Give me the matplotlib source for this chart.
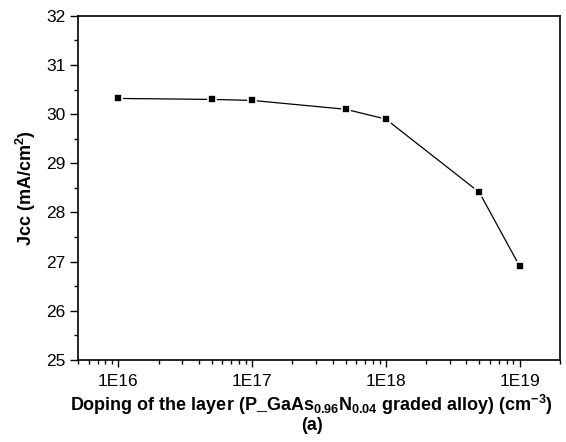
import matplotlib
matplotlib.use("Agg")
import matplotlib.pyplot as plt
from matplotlib.ticker import FixedLocator, LogLocator, NullFormatter, MultipleLocator

plt.rcParams["font.family"] = ["Liberation Sans", "DejaVu Sans"]
plt.rcParams["mathtext.fontset"] = "custom"
plt.rcParams["mathtext.rm"] = "Liberation Sans:bold"
plt.rcParams["mathtext.it"] = "Liberation Sans:bold"
plt.rcParams["mathtext.bf"] = "Liberation Sans:bold"

# Doping levels (cm^-3) and short-circuit current density
doping = [1e16, 5e16, 1e17, 5e17, 1e18, 5e18, 1e19]
jcc = [30.32, 30.30, 30.28, 30.10, 29.90, 28.41, 26.91]
tick_pos = [1e16, 1e17, 1e18, 1e19]
tick_labels = ["1E16", "1E17", "1E18", "1E19"]

fig = plt.figure(figsize=(5.66, 4.42), dpi=100)
ax = fig.add_axes([0.138, 0.186, 0.851, 0.778])

ax.plot(doping, jcc, "-", color="black", lw=0.9, marker="s", ms=5.5,
        mfc="black", mec="white", mew=1.2)

ax.set_xscale("log")
ax.set_xlim(5e15, 2e19)
ax.set_ylim(25, 32)
ax.xaxis.set_major_locator(FixedLocator(tick_pos))
ax.set_xticklabels(tick_labels)
ax.xaxis.set_minor_locator(LogLocator(base=10, subs=range(2, 10)))
ax.xaxis.set_minor_formatter(NullFormatter())
ax.yaxis.set_major_locator(MultipleLocator(1))
ax.yaxis.set_minor_locator(MultipleLocator(0.5))

ax.tick_params(which="major", direction="out", length=5, width=1, labelsize=12.5)
ax.tick_params(axis="x", which="major", pad=5)
ax.tick_params(axis="y", which="major", length=6, pad=3)
ax.tick_params(which="minor", direction="out", length=3, width=1)
for s in ax.spines.values():
    s.set_linewidth(1.2)

ax.set_ylabel("Jcc (mA/cm$^{2}$)", fontsize=13, fontweight="bold", labelpad=6)
ax.set_xlabel("Doping of the layer (P_GaAs$_{0.96}$N$_{0.04}$ graded alloy) (cm$^{-3}$)\n(a)",
              fontsize=13, fontweight="bold", labelpad=3, linespacing=1.0)
ax.xaxis.label.set_x(0.485)

fig.savefig("out.png", dpi=100)
